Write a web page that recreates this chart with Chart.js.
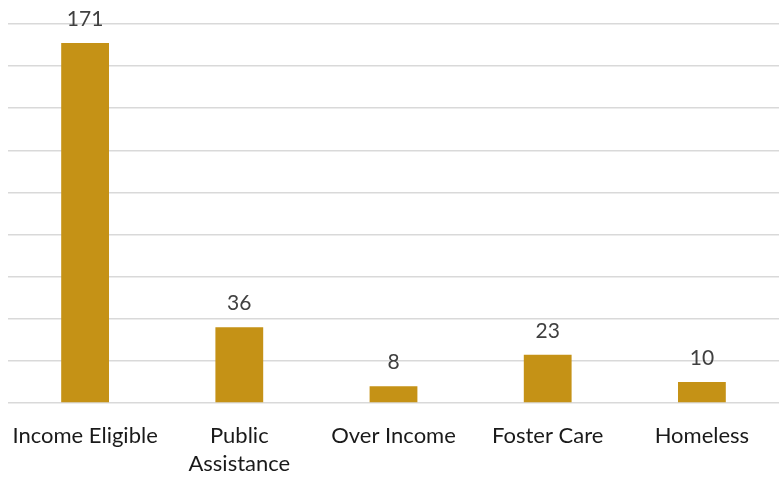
<!DOCTYPE html>
<html>
<head>
<meta charset="utf-8">
<script src="https://cdn.jsdelivr.net/npm/chart.js@4"></script>
<style>
html,body{margin:0;padding:0;background:#fff;}
#wrap{width:779px;height:478px;}
</style>
</head>
<body>
<div id="wrap"><canvas id="c" width="779" height="478"></canvas></div>
<script>
const categories = ["Income Eligible", ["Public", "Assistance"], "Over Income", "Foster Care", "Homeless"];
const values = [171, 36, 8, 23, 10];
const yMin = 0, yMax = 180, yStep = 20;

const FONT = "Lato, 'Open Sans', sans-serif";

const valueLabels = {
  id: 'valueLabels',
  afterDatasetsDraw(chart) {
    const ctx = chart.ctx;
    const meta = chart.getDatasetMeta(0);
    ctx.save();
    ctx.fillStyle = '#404040';
    ctx.font = '21px ' + FONT;
    ctx.textAlign = 'center';
    ctx.textBaseline = 'alphabetic';
    meta.data.forEach((bar, i) => {
      ctx.fillText(String(values[i]), bar.x, bar.y - 17);
    });
    ctx.restore();
  }
};

new Chart(document.getElementById('c'), {
  type: 'bar',
  data: {
    labels: categories,
    datasets: [{
      data: values,
      backgroundColor: '#C59216',
      borderWidth: 0,
      categoryPercentage: 1,
      barPercentage: 0.31
    }]
  },
  options: {
    responsive: false,
    animation: false,
    devicePixelRatio: 1,
    layout: { padding: { left: 8, right: -3, top: 24, bottom: 0 } },
    plugins: { legend: { display: false }, tooltip: { enabled: false } },
    scales: {
      x: {
        grid: { display: false, drawTicks: true, tickLength: 19 },
        border: { display: false },
        ticks: {
          color: '#1a1a1a',
          font: { family: FONT, size: 22, lineHeight: 1.27 },
          padding: 0,
          maxRotation: 0,
          autoSkip: false
        }
      },
      y: {
        min: yMin, max: yMax,
        ticks: { display: false, stepSize: yStep },
        grid: { color: '#d9d9d9', lineWidth: 1.5, drawTicks: false },
        border: { display: false }
      }
    }
  },
  plugins: [valueLabels]
});
</script>
</body>
</html>
